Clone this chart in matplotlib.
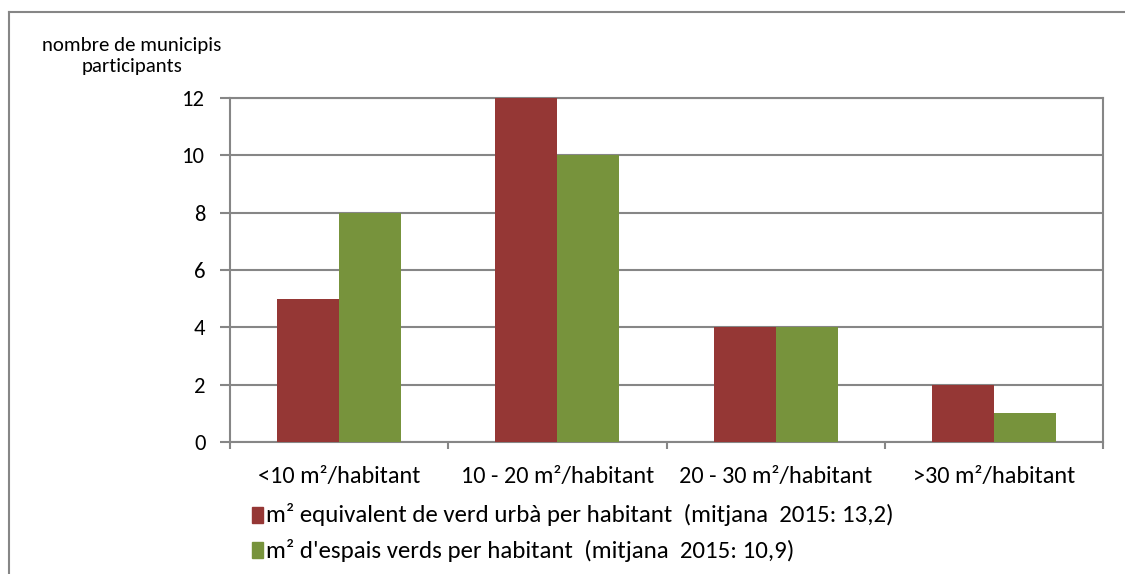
import matplotlib
matplotlib.use("Agg")
import matplotlib.pyplot as plt
from matplotlib import font_manager
import numpy as np
from matplotlib.lines import Line2D
from matplotlib.patches import Rectangle

categories = ["<10 m²/habitant", "10 - 20 m²/habitant", "20 - 30 m²/habitant", ">30 m²/habitant"]
verd_urba = [5, 12, 4, 2]
espais_verds = [8, 10, 4, 1]
series_labels = [
    "m² equivalent de verd urbà per habitant  (mitjana  2015: 13,2)",
    "m² d'espais verds per habitant  (mitjana  2015: 10,9)",
]
yticks = [0, 2, 4, 6, 8, 10, 12]

RED = "#953735"
GREEN = "#77933C"
GRID = "#868686"

# Calibri-like font if one is around
installed = {f.name for f in font_manager.fontManager.ttflist}
candidates = ["Carlito", "Lato", "Open Sans"]
chosen = next((c for c in candidates if c in installed), "DejaVu Sans")
plt.rcParams["font.family"] = [chosen, "DejaVu Sans"]

W, H = 1125, 574
fig = plt.figure(figsize=(W / 100, H / 100), dpi=100)
renderer = fig.canvas.get_renderer()


def fit_size(text, target_px):
    # font size (pt) that makes `text` about target_px wide
    t = fig.text(0, 0, text, fontsize=10)
    w = t.get_window_extent(renderer).width
    t.remove()
    return 10 * target_px / w


cat_fs = fit_size(categories[0], 164)
tick_fs = fit_size("12", 23)
ylab_fs = fit_size("nombre de municipis", 180)
leg_fs = fit_size(series_labels[0], 644 - 14)

ax = fig.add_axes([230 / W, 1 - 442 / H, (1103 - 230) / W, (442 - 98) / H])

x = np.arange(len(categories))
bw = 0.284
ax.bar(x - bw / 2, verd_urba, bw, color=RED, zorder=3)
ax.bar(x + bw / 2, espais_verds, bw, color=GREEN, zorder=3)

ax.set_xlim(-0.5, len(categories) - 0.5)
ax.set_ylim(0, 12)
ax.set_yticks(yticks)
ax.yaxis.grid(True, color=GRID, linewidth=1.5, zorder=0)
ax.set_axisbelow(True)
for s in ax.spines.values():
    s.set_color(GRID)
    s.set_linewidth(1.5)

ax.tick_params(axis="y", length=7.2, width=1.5, color=GRID, labelsize=tick_fs, pad=10.5)
ax.set_xticks(np.arange(len(categories) + 1) - 0.5)
ax.set_xticklabels([])
ax.tick_params(axis="x", length=5, width=1.5, color=GRID)

# category labels in figure pixels below the axis
for i, c in enumerate(categories):
    xf = ax.transData.transform((i, 0))[0] / W
    fig.text(xf, 1 - 477 / H, c, fontsize=cat_fs, ha="center", va="center")

fig.text(132 / W, 1 - 56 / H, "nombre de municipis\nparticipants", fontsize=ylab_fs,
         ha="center", va="center", linespacing=1.25)

# legend drawn by hand: square + text per row
row_y = [515, 550]
for y, lab, col in zip(row_y, series_labels, [RED, GREEN]):
    fig.add_artist(Rectangle((252 / W, 1 - (y + 8) / H), 11 / W, 16 / H, color=RED if col == RED else GREEN,
                             transform=fig.transFigure))
    fig.text(266 / W, 1 - y / H, lab, fontsize=leg_fs, ha="left", va="center")

# outer chart frame (left and top edges visible)
fig.add_artist(Line2D([9 / W, 9 / W], [0, 1 - 12 / H], color=GRID, linewidth=1.5,
                      transform=fig.transFigure))
fig.add_artist(Line2D([9 / W, 1], [1 - 12 / H, 1 - 12 / H], color=GRID, linewidth=1.5,
                      transform=fig.transFigure))

fig.savefig("out.png", dpi=100)
